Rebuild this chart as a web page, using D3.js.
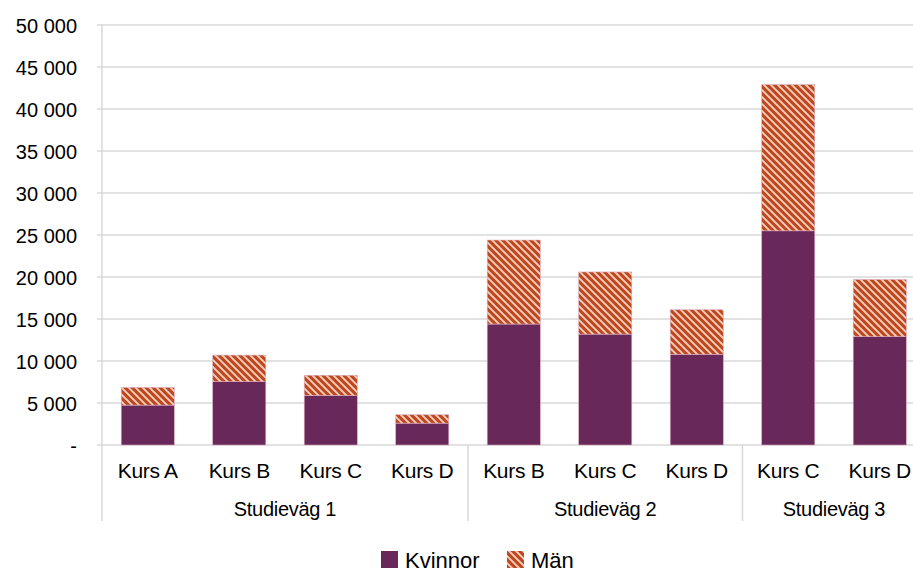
<!DOCTYPE html>
<html>
<head>
<meta charset="utf-8">
<script src="https://cdn.jsdelivr.net/npm/d3@7"></script>
<style>
  body { margin: 0; background: #fff; }
  text { font-family: "Liberation Sans", Arial, sans-serif; fill: #000; }
</style>
</head>
<body>
<div id="chart"></div>
<script>
// data
const courses = ['Kurs A', 'Kurs B', 'Kurs C', 'Kurs D', 'Kurs B', 'Kurs C', 'Kurs D', 'Kurs C', 'Kurs D'];
const paths = ['Studieväg 1', 'Studieväg 1', 'Studieväg 1', 'Studieväg 1', 'Studieväg 2', 'Studieväg 2', 'Studieväg 2', 'Studieväg 3', 'Studieväg 3'];
const kvinnor = [4750, 7550, 5900, 2600, 14400, 13200, 10800, 25500, 12900];
const man = [2100, 3150, 2400, 1000, 10000, 7400, 5300, 17400, 6800];
const yTicks = [0, 5000, 10000, 15000, 20000, 25000, 30000, 35000, 40000, 45000, 50000];
const seriesNames = ['Kvinnor', 'Män'];

const purple = '#68285a';
const orange = '#c0481f';
const grid = '#d9d9d9';

const w = 913, h = 576;
const mLeft = 102, mRight = 925.5, mTop = 25, mBottom = 445;

const rows = courses.map((c, i) => ({ key: i, course: c, path: paths[i], Kvinnor: kvinnor[i], 'Män': man[i] }));

const svg = d3.select('#chart').append('svg')
    .attr('width', w)
    .attr('height', h);

// stripe pattern for Män
const defs = svg.append('defs');
const pat = defs.append('pattern')
    .attr('id', 'stripes')
    .attr('patternUnits', 'userSpaceOnUse')
    .attr('width', 7)
    .attr('height', 7);
pat.append('rect').attr('width', 7).attr('height', 7).attr('fill', orange);
pat.append('path')
    .attr('d', 'M-2,-2 L9,9 M-2,5 L2,9 M5,-2 L9,2')
    .attr('stroke', '#f5d3c4')
    .attr('stroke-width', 1.8);

const x = d3.scaleBand()
    .domain(rows.map(d => d.key))
    .range([mLeft, mRight])
    .paddingInner(0.42)
    .paddingOuter(0.21);

const y = d3.scaleLinear()
    .domain([0, 50000])
    .range([mBottom, mTop]);

// gridlines
svg.append('g')
    .selectAll('line')
    .data(yTicks)
    .enter()
    .append('line')
    .attr('x1', mLeft - 5)
    .attr('x2', w)
    .attr('y1', d => y(d))
    .attr('y2', d => y(d))
    .attr('stroke', grid)
    .attr('stroke-width', 1.5);

// y axis
const yAxis = d3.axisLeft(y)
    .tickValues(yTicks)
    .tickSize(0)
    .tickPadding(25)
    .tickFormat(d => d === 0 ? '-' : d3.format(',')(d).replace(/,/g, ' '));

const yg = svg.append('g')
    .attr('transform', `translate(${mLeft},0)`)
    .call(yAxis);
yg.select('.domain').remove();
yg.selectAll('text')
    .style('font-size', '20px')
    .attr('dy', '0.35em')
    .attr('fill', '#000');

// axis lines
svg.append('line')
    .attr('x1', mLeft).attr('x2', mLeft)
    .attr('y1', mTop).attr('y2', 521)
    .attr('stroke', grid).attr('stroke-width', 1.5);

// stacked bars
const stack = d3.stack().keys(seriesNames);
const layers = stack(rows);

svg.append('g')
    .selectAll('g')
    .data(layers)
    .enter()
    .append('g')
    .attr('fill', d => d.key === 'Män' ? 'url(#stripes)' : purple)
    .selectAll('rect')
    .data(d => d)
    .enter()
    .append('rect')
    .attr('x', d => x(d.data.key))
    .attr('width', x.bandwidth())
    .attr('y', d => y(d[1]))
    .attr('height', d => y(d[0]) - y(d[1]))
    .attr('stroke', '#d9a9bd')
    .attr('stroke-width', 0.6);

// category labels
svg.append('g')
    .selectAll('text')
    .data(rows)
    .enter()
    .append('text')
    .attr('x', d => x(d.key) + x.bandwidth() / 2)
    .attr('y', 478)
    .attr('text-anchor', 'middle')
    .style('font-size', '21px')
    .style('letter-spacing', '-0.3px')
    .text(d => d.course);

// group labels + separators
const groups = d3.groups(rows, d => d.path);
const step = x.step();
groups.forEach(([name, items]) => {
    const x0 = x(items[0].key) - x.paddingOuter() * step;
    const x1 = x(items[items.length - 1].key) + x.bandwidth() + x.paddingOuter() * step;
    svg.append('text')
        .attr('x', (x0 + x1) / 2)
        .attr('y', 516)
        .attr('text-anchor', 'middle')
        .style('font-size', '20px')
        .style('letter-spacing', '-0.3px')
        .text(name);
    svg.append('line')
        .attr('x1', x1).attr('x2', x1)
        .attr('y1', mBottom).attr('y2', 521)
        .attr('stroke', grid).attr('stroke-width', 1.5);
});

// legend
const legend = svg.append('g');
const legendX = [381, 507];
seriesNames.forEach((name, i) => {
    legend.append('rect')
        .attr('x', legendX[i])
        .attr('y', 551)
        .attr('width', 17)
        .attr('height', 17)
        .attr('fill', name === 'Män' ? 'url(#stripes)' : purple);
    legend.append('text')
        .attr('x', legendX[i] + 24)
        .attr('y', 568)
        .style('font-size', '22px')
        .text(name);
});
</script>
</body>
</html>
